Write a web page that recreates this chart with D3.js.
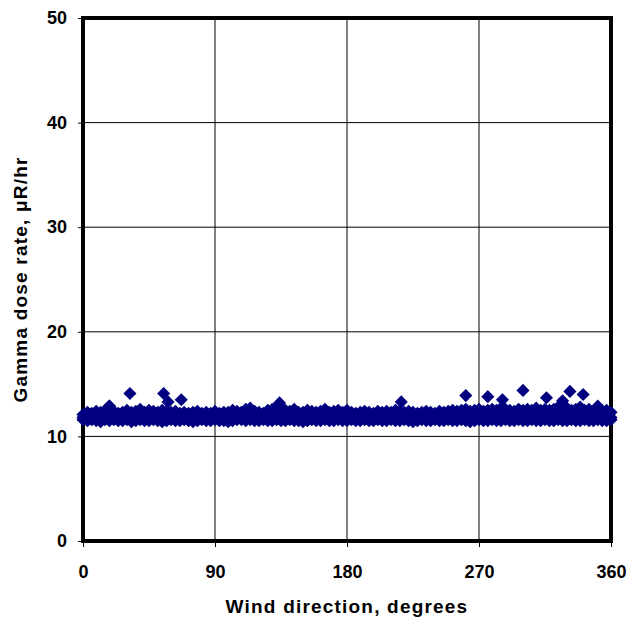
<!DOCTYPE html>
<html>
<head>
<meta charset="utf-8">
<script src="https://cdn.jsdelivr.net/npm/d3@7/dist/d3.min.js"></script>
<style>
  body { margin: 0; background: #fff; }
  text { font-family: Arial, "Liberation Sans", sans-serif; font-weight: bold; fill: #000; }
</style>
</head>
<body>
<div id="wrapper"></div>
<script>
// wind direction sampled across the band (degrees)
const directions = [
  0, 3, 6, 9, 12, 15, 18, 21, 24, 27, 30, 33, 36, 39, 42, 45, 48, 51, 54, 57, 60, 63, 66, 69, 72, 75, 78, 81, 84, 87,
  90, 93, 96, 99, 102, 105, 108, 111, 114, 117, 120, 123, 126, 129, 132, 135, 138, 141, 144, 147, 150, 153, 156, 159, 162, 165, 168, 171, 174, 177,
  180, 183, 186, 189, 192, 195, 198, 201, 204, 207, 210, 213, 216, 219, 222, 225, 228, 231, 234, 237, 240, 243, 246, 249, 252, 255, 258, 261, 264, 267,
  270, 273, 276, 279, 282, 285, 288, 291, 294, 297, 300, 303, 306, 309, 312, 315, 318, 321, 324, 327, 330, 333, 336, 339, 342, 345, 348, 351, 354, 357, 360,
]
// dose rates at those directions, upper / middle / lower readings (uR/hr)
const upperRates = [
  12.1, 12.3, 12.2, 12.4, 12.3, 12.5, 12.9, 12.4, 12.2, 12.3, 12.5, 12.3, 12.4, 12.6, 12.3, 12.5, 12.4, 12.3, 12.5, 12.4, 12.3, 12.4, 12.2, 12.3, 12.2, 12.3, 12.4, 12.2, 12.3, 12.2,
  12.4, 12.2, 12.3, 12.3, 12.5, 12.4, 12.3, 12.6, 12.7, 12.4, 12.3, 12.2, 12.5, 12.6, 12.8, 12.7, 12.5, 12.4, 12.6, 12.3, 12.3, 12.5, 12.4, 12.3, 12.4, 12.6, 12.3, 12.4, 12.5, 12.3,
  12.5, 12.3, 12.2, 12.3, 12.4, 12.3, 12.2, 12.4, 12.3, 12.4, 12.3, 12.5, 12.4, 12.3, 12.4, 12.3, 12.2, 12.3, 12.4, 12.3, 12.2, 12.4, 12.3, 12.4, 12.5, 12.4, 12.5, 12.6, 12.4, 12.5,
  12.6, 12.4, 12.5, 12.6, 12.5, 12.7, 12.6, 12.5, 12.4, 12.6, 12.5, 12.6, 12.5, 12.7, 12.5, 12.6, 12.5, 12.6, 12.8, 12.6, 12.7, 12.5, 12.6, 12.8, 12.5, 12.6, 12.4, 12.7, 12.4, 12.5, 12.3,
]
const middleRates = [
  11.8, 11.9, 12.0, 11.9, 11.9, 12.0, 11.9, 12.0, 11.9, 11.8, 11.9, 12.0, 11.9, 11.9, 12.0, 11.9, 11.9, 12.0, 11.9, 11.9, 11.9, 12.0, 11.9, 11.9, 11.8, 11.9, 11.9, 12.0, 11.9, 11.9,
  11.9, 12.0, 11.9, 11.9, 12.0, 11.9, 11.9, 11.9, 12.0, 11.9, 11.9, 11.9, 12.0, 11.9, 12.0, 11.9, 11.9, 12.0, 11.9, 11.9, 12.0, 11.9, 11.9, 11.9, 12.0, 11.9, 11.9, 12.0, 11.9, 11.9,
  11.9, 12.0, 11.9, 11.9, 11.9, 12.0, 11.9, 11.9, 12.0, 11.9, 11.9, 11.9, 12.0, 11.9, 11.9, 12.0, 11.9, 11.9, 11.9, 12.0, 11.9, 11.9, 12.0, 11.9, 11.9, 12.0, 12.0, 11.9, 12.0, 11.9,
  12.0, 11.9, 12.0, 12.0, 11.9, 12.0, 12.0, 11.9, 12.0, 12.0, 11.9, 12.0, 12.0, 11.9, 12.0, 12.0, 11.9, 12.0, 12.0, 11.9, 12.0, 12.0, 11.9, 12.0, 12.0, 11.9, 12.0, 12.0, 11.9, 12.0, 11.8,
]
const lowerRates = [
  11.6, 11.5, 11.6, 11.5, 11.4, 11.6, 11.5, 11.6, 11.5, 11.5, 11.6, 11.4, 11.5, 11.6, 11.5, 11.5, 11.6, 11.5, 11.4, 11.5, 11.6, 11.5, 11.5, 11.6, 11.5, 11.4, 11.5, 11.6, 11.5, 11.5,
  11.6, 11.5, 11.5, 11.4, 11.5, 11.6, 11.6, 11.5, 11.6, 11.5, 11.5, 11.6, 11.5, 11.5, 11.6, 11.5, 11.5, 11.6, 11.5, 11.5, 11.4, 11.5, 11.6, 11.5, 11.5, 11.6, 11.5, 11.5, 11.6, 11.5,
  11.5, 11.6, 11.5, 11.5, 11.6, 11.5, 11.5, 11.6, 11.5, 11.5, 11.6, 11.5, 11.5, 11.6, 11.5, 11.4, 11.5, 11.6, 11.5, 11.5, 11.6, 11.5, 11.5, 11.6, 11.5, 11.5, 11.6, 11.5, 11.4, 11.5,
  11.6, 11.5, 11.5, 11.6, 11.5, 11.5, 11.6, 11.5, 11.5, 11.6, 11.5, 11.5, 11.6, 11.5, 11.5, 11.6, 11.5, 11.5, 11.6, 11.5, 11.5, 11.6, 11.5, 11.5, 11.6, 11.5, 11.5, 11.6, 11.5, 11.5, 11.6,
]
// higher readings standing out above the band
const outlierDirections = [18, 32, 55, 58, 67, 134, 217, 261, 276, 286, 300, 316, 327, 332, 341, 351]
const outlierRates = [12.9, 14.1, 14.1, 13.3, 13.5, 13.2, 13.3, 13.9, 13.8, 13.5, 14.4, 13.7, 13.4, 14.3, 14.0, 12.9]

const xTicks = [0, 90, 180, 270, 360]
const yTicks = [0, 10, 20, 30, 40, 50]

function drawScatter() {
  // build point list
  let dataset = []
  directions.forEach((d, i) => {
    dataset.push({ dir: d, rate: lowerRates[i] })
    dataset.push({ dir: d, rate: middleRates[i] })
    dataset.push({ dir: d, rate: upperRates[i] })
  })
  outlierDirections.forEach((d, i) => dataset.push({ dir: d, rate: outlierRates[i] }))

  const xAccessor = d => d.dir
  const yAccessor = d => d.rate

  let dimensions = {
    width: 633,
    height: 628,
    margin: {
      top: 18,
      right: 22,
      bottom: 87,
      left: 83,
    },
  }
  dimensions.boundedWidth = dimensions.width - dimensions.margin.left - dimensions.margin.right
  dimensions.boundedHeight = dimensions.height - dimensions.margin.top - dimensions.margin.bottom

  const wrapper = d3.select("#wrapper")
    .append("svg")
      .attr("width", dimensions.width)
      .attr("height", dimensions.height)

  const bounds = wrapper.append("g")
    .attr("transform", `translate(${dimensions.margin.left}, ${dimensions.margin.top})`)

  // scales
  const xScale = d3.scaleLinear()
    .domain([0, 360])
    .range([0, dimensions.boundedWidth])

  const yScale = d3.scaleLinear()
    .domain([0, 50])
    .range([dimensions.boundedHeight, 0])

  // gridlines
  bounds.append("g")
    .selectAll("line")
    .data(yTicks.slice(1, -1))
    .enter().append("line")
      .attr("x1", 0)
      .attr("x2", dimensions.boundedWidth)
      .attr("y1", d => yScale(d))
      .attr("y2", d => yScale(d))
      .attr("stroke", "#000")
      .attr("stroke-width", 1)

  bounds.append("g")
    .selectAll("line")
    .data(xTicks.slice(1, -1))
    .enter().append("line")
      .attr("y1", 0)
      .attr("y2", dimensions.boundedHeight)
      .attr("x1", d => xScale(d))
      .attr("x2", d => xScale(d))
      .attr("stroke", "#000")
      .attr("stroke-width", 1)

  // axes
  const xAxisGenerator = d3.axisBottom()
    .scale(xScale)
    .tickValues(xTicks)
    .tickSize(6)
    .tickPadding(18)
    .tickSizeOuter(0)

  const xAxis = bounds.append("g")
    .attr("transform", `translate(0, ${dimensions.boundedHeight})`)
    .call(xAxisGenerator)
  xAxis.select(".domain").remove()
  xAxis.selectAll("text")
    .style("font-size", "18px")
    .style("font-family", "Arial, 'Liberation Sans', sans-serif")
    .style("font-weight", "bold")

  const yAxisGenerator = d3.axisLeft()
    .scale(yScale)
    .tickValues(yTicks)
    .tickSize(5)
    .tickPadding(11)
    .tickSizeOuter(0)

  const yAxis = bounds.append("g")
    .call(yAxisGenerator)
  yAxis.select(".domain").remove()
  yAxis.selectAll("text")
    .style("font-size", "18px")
    .style("font-family", "Arial, 'Liberation Sans', sans-serif")
    .style("font-weight", "bold")

  // plot frame
  bounds.append("rect")
    .attr("x", 0)
    .attr("y", 0)
    .attr("width", dimensions.boundedWidth)
    .attr("height", dimensions.boundedHeight)
    .attr("fill", "none")
    .attr("stroke", "#000")
    .attr("stroke-width", 4)

  // points: rotated squares = diamonds
  const diamond = d3.symbol().type(d3.symbolSquare).size(86)
  bounds.append("g")
    .selectAll("path")
    .data(dataset)
    .enter().append("path")
      .attr("d", diamond)
      .attr("transform", d => `translate(${xScale(xAccessor(d))}, ${yScale(yAccessor(d))}) rotate(45)`)
      .attr("fill", "#000080")

  // labels
  wrapper.append("text")
    .attr("x", dimensions.margin.left + dimensions.boundedWidth / 2)
    .attr("y", 613)
    .attr("text-anchor", "middle")
    .style("font-size", "19px")
    .style("letter-spacing", "1.2px")
    .text("Wind direction, degrees")

  wrapper.append("text")
    .attr("transform", `translate(27, ${dimensions.margin.top + dimensions.boundedHeight / 2}) rotate(-90)`)
    .attr("text-anchor", "middle")
    .style("font-size", "19px")
    .style("letter-spacing", "1.2px")
    .text("Gamma dose rate, μR/hr")
}
drawScatter()
</script>
</body>
</html>
